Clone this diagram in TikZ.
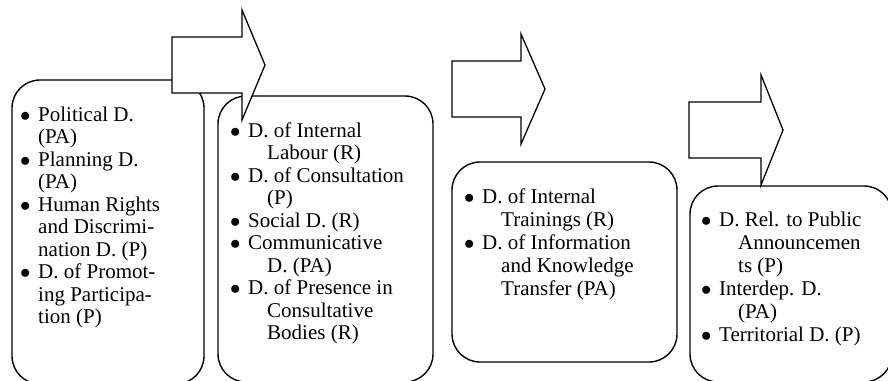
\documentclass[tikz,border=0pt]{standalone}
\usepackage{fontspec}
\setmainfont{Liberation Serif}
\usepackage{array}
\tikzset{
  dbox/.style={draw, line width=1.4pt, rounded corners=28pt, anchor=north west, inner sep=0pt, outer sep=0pt},
  dlist/.style={anchor=base west, inner sep=0pt, font=\fontsize{21pt}{22.5pt}\selectfont},
  dlistwide/.style={dlist, font=\fontsize{21pt}{23pt}\selectfont},
  blockarrow/.style={draw, fill=white, line width=1.3pt, line join=miter}
}
\newcommand{\dlst}[1]{\begin{tabular}[t]{@{}p{17pt}@{}l@{}}#1\end{tabular}}
\newcommand{\bul}{\hspace*{-1pt}$\bullet$}
\newcommand{\cnt}{\hspace*{19pt}}
\begin{document}
\begin{tikzpicture}[x=1pt, y=-1pt]
\useasboundingbox (0,0) rectangle (888,380);
\clip (0,0) rectangle (888,380);
% rounded boxes
\node[dbox, minimum width=192pt, minimum height=304pt] (box1) at (12,80) {};
\node[dbox, minimum width=215pt, minimum height=286pt] (box2) at (218,96) {};
\node[dbox, minimum width=225pt, minimum height=200pt] (box3) at (452,162) {};
\node[dbox, minimum width=202pt, minimum height=196pt] (box4) at (690,186) {};
% block arrows
\foreach \ax/\ay/\sl/\hl in {172/65/70/23, 452/89/69/24, 689/130/72/22}
  \draw[blockarrow] (\ax,\ay-28) -- ++(\sl,0) -- ++(0,-27) -- ++(\hl,55)
    -- ++(-\hl,55) -- ++(0,-27) -- (\ax,\ay+28) -- cycle;
% lists
\node[dlist] (list1) at (21,121) {\dlst{\bul & Political D.\\ & (PA)\\
  \bul & Planning D.\\ & (PA)\\
  \bul & Human Rights\\ & and Discrimi-\\ & nation D. (P)\\
  \bul & D. of Promot-\\ & ing Participa-\\ & tion (P)}};
\node[dlist] (list2) at (231,137) {\dlst{\bul & D. of Internal\\ & \cnt Labour (R)\\
  \bul & D. of Consultation\\ & \cnt (P)\\
  \bul & Social D. (R)\\
  \bul & Communicative\\ & \cnt D. (PA)\\
  \bul & D. of Presence in\\ & \cnt Consultative\\ & \cnt Bodies (R)}};
\node[dlistwide] (list3) at (465,203) {\dlst{\bul & D. of Internal\\ & \cnt Trainings (R)\\
  \bul & D. of Information\\ & \cnt and Knowledge\\ & \cnt Transfer (PA)}};
\node[dlistwide] (list4) at (702,226) {\dlst{\bul & D. Rel. to Public\\ & \cnt Announcemen\\ & \cnt ts (P)\\
  \bul & Interdep. D.\\ & \cnt (PA)\\
  \bul & Territorial D. (P)}};
\end{tikzpicture}
\end{document}
